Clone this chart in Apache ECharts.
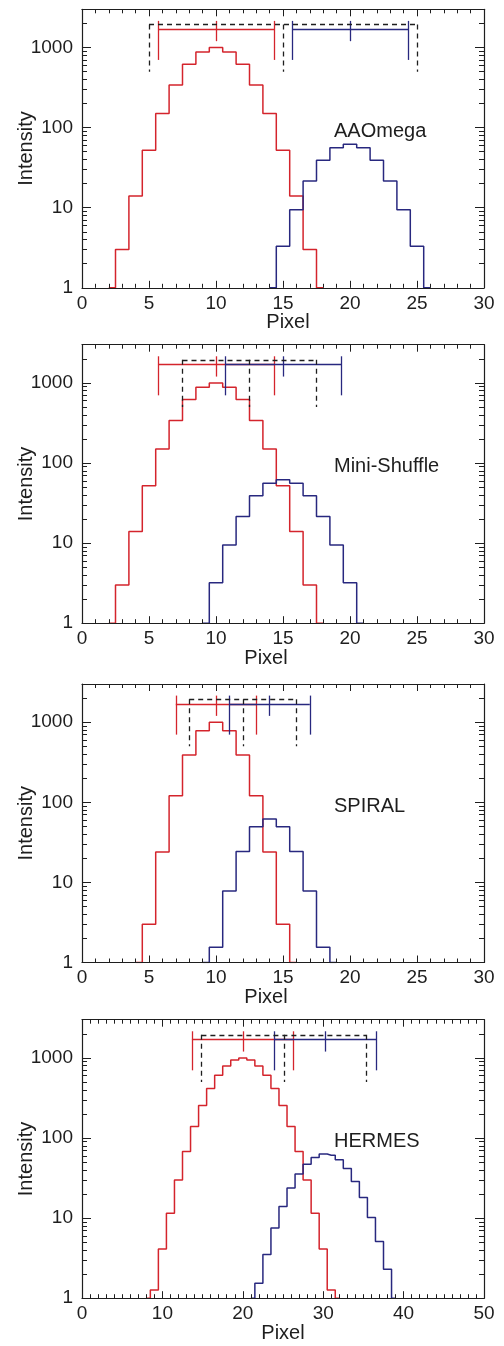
<!DOCTYPE html>
<html><head><meta charset="utf-8">
<script src="https://cdn.jsdelivr.net/npm/echarts@6/dist/echarts.min.js"></script>
<style>html,body{margin:0;padding:0;background:#fff}#c{width:504px;height:1346px}</style>
</head><body><div id="c"></div>
<script>
// ---------- data ----------
const instruments = ['AAOmega', 'Mini-Shuffle', 'SPIRAL', 'HERMES'];
const xMax = [30, 30, 30, 50];
const xStep = [5, 5, 5, 10];
const xMinorSplit = [5, 5, 5, 10];
const yMin = 1, yMax = 3000;
const yMajorTicks = [1, 10, 100, 1000];
const yMinorTicks = [2,3,4,5,6,7,8,9,20,30,40,50,60,70,80,90,200,300,400,500,600,700,800,900,2000,3000];

// first bin centre of each histogram
const redFirstBin = [3, 3, 5, 9];
const blueFirstBin = [15, 10, 10, 22];

const redAAOmega = [3, 14, 52, 150, 340, 620, 880, 1000, 880, 620, 340, 150, 52, 14, 3];
const blueAAOmega = [3.3, 9.4, 21.5, 39, 56, 62, 56, 39, 21.5, 9.4, 3.3];
const redMiniShuffle = [3, 14, 52, 150, 340, 620, 880, 1000, 880, 620, 340, 150, 52, 14, 3];
const blueMiniShuffle = [3.2, 9.5, 21.5, 39, 56, 62, 56, 39, 21.5, 9.5, 3.2];
const redSpiral = [3, 24, 121, 390, 780, 1000, 780, 390, 121, 24, 3];
const blueSpiral = [1.55, 7.8, 24.4, 49.6, 62, 49.6, 24.4, 7.8, 1.55];
const redHermes = [1.27, 4.1, 11.5, 30, 68, 139, 254, 414, 607, 794, 944, 1000, 944, 794, 607, 414, 254, 139, 68, 30, 11.5, 4.1, 1.27];
const blueHermes = [1.54, 3.5, 7.5, 14, 23.7, 35.5, 47, 57, 63, 61, 53.5, 41.7, 28.7, 18.1, 10.2, 5.1, 2.3];

const redSeries = [redAAOmega, redMiniShuffle, redSpiral, redHermes];
const blueSeries = [blueAAOmega, blueMiniShuffle, blueSpiral, blueHermes];

// [low, centre, high] of the range markers
const redBars = [[5.67, 10, 14.33], [5.67, 10, 14.33], [7, 10, 13], [13.67, 20, 26.33]];
const blueBars = [[15.67, 20, 24.35], [10.67, 15, 19.33], [11, 14, 17], [23.92, 30.28, 36.65]];
const dashedMarks = [[5, 15, 25], [7.5, 12.5, 17.5], [8, 12, 16], [14.85, 25.1, 35.35]];
// intensity levels of the marker parts
const levelDashed = 1940, levelBar = 1700, levelTickTop = 2150, levelTickBottom = 700;
const levelCentreBottom = 1200, levelDashedBottom = 500;

// ---------- layout / style ----------
const gridTops = [9.3, 344.7, 684, 1019.7];
const gridH = 278.5;
const pixelShift = [5, -17, -17, 0];
const RED = '#d4242c', BLUE = '#28287f', INK = '#1e1e1e';
const FONT = '"Liberation Sans", Arial, Helvetica, sans-serif';

function histData(first, vals) {
  const d = [[first - 1, yMin]];
  vals.forEach((v, i) => d.push([first + i, v]));
  d.push([first + vals.length, yMin]);
  return d;
}
function seg(x1, y1, x2, y2, style) {
  const a = { coord: [x1, y1] };
  if (style) a.lineStyle = style;
  return [a, { coord: [x2, y2] }];
}
function barLines(b) {
  const [lo, c, hi] = b;
  return [
    seg(lo, levelBar, hi, levelBar),
    seg(lo, levelTickTop, lo, levelTickBottom),
    seg(hi, levelTickTop, hi, levelTickBottom),
    seg(c, levelTickTop, c, levelCentreBottom)
  ];
}
function dashLines(m) {
  const st = { color: INK, type: [5, 4], width: 1.3 };
  return [
    seg(m[0], levelDashed, m[2], levelDashed, st),
    seg(m[0], levelDashed, m[0], levelDashedBottom, st),
    seg(m[1], levelDashed, m[1], levelDashedBottom, st),
    seg(m[2], levelDashed, m[2], levelDashedBottom, st)
  ];
}

const grids = [], xAxes = [], yAxes = [], series = [], graphics = [];
instruments.forEach((name, i) => {
  grids.push({ left: 82, right: 20, top: gridTops[i], height: gridH, containLabel: false, outerBoundsMode: 'none' });
  const xBase = {
    gridIndex: i, type: 'value', min: 0, max: xMax[i], interval: xStep[i],
    axisLine: { show: true, lineStyle: { color: INK, width: 1.2 } },
    axisTick: { show: true, inside: true, length: 7, lineStyle: { color: INK, width: 1 } },
    minorTick: { show: true, splitNumber: xMinorSplit[i], length: 4, lineStyle: { color: INK, width: 1 } },
    splitLine: { show: false }, z: 5
  };
  xAxes.push(Object.assign({}, xBase, {
    position: 'bottom',
    axisLabel: { show: true, fontSize: 19, color: INK, fontFamily: FONT, margin: 6 },
    name: 'Pixel', nameLocation: 'middle', nameGap: 25, nameMoveOverlap: false,
    nameTextStyle: { fontSize: 20, color: INK, fontFamily: FONT,
      padding: pixelShift[i] >= 0 ? [0, 0, 0, 2 * pixelShift[i]] : [0, -2 * pixelShift[i], 0, 0] }
  }));
  xAxes.push(Object.assign({}, xBase, { position: 'top', axisLabel: { show: false } }));

  const yBase = {
    gridIndex: i, type: 'log', logBase: 10, min: yMin, max: yMax,
    splitLine: { show: false }, minorTick: { show: false }, z: 5
  };
  yAxes.push(Object.assign({}, yBase, {
    position: 'left',
    axisLine: { show: true, lineStyle: { color: INK, width: 1.2 } },
    axisTick: { show: true, inside: true, length: 9, customValues: yMajorTicks, lineStyle: { color: INK, width: 1 } },
    axisLabel: { show: true, customValues: yMajorTicks, fontSize: 19, color: INK, fontFamily: FONT, margin: 9,
      formatter: v => String(Math.round(v)) },
    name: 'Intensity', nameLocation: 'middle', nameGap: 46, nameMoveOverlap: false,
    nameTextStyle: { fontSize: 20, color: INK, fontFamily: FONT }
  }));
  yAxes.push(Object.assign({}, yBase, {
    position: 'left', axisLine: { show: false },
    axisTick: { show: true, inside: true, length: 5, customValues: yMinorTicks, lineStyle: { color: INK, width: 1 } },
    axisLabel: { show: false }
  }));
  yAxes.push(Object.assign({}, yBase, {
    position: 'right',
    axisLine: { show: true, lineStyle: { color: INK, width: 1.2 } },
    axisTick: { show: true, inside: true, length: 9, customValues: yMajorTicks, lineStyle: { color: INK, width: 1 } },
    axisLabel: { show: false }
  }));
  yAxes.push(Object.assign({}, yBase, {
    position: 'right', axisLine: { show: false },
    axisTick: { show: true, inside: true, length: 5, customValues: yMinorTicks, lineStyle: { color: INK, width: 1 } },
    axisLabel: { show: false }
  }));

  const mlBase = { silent: true, symbol: ['none', 'none'], label: { show: false }, animation: false };
  series.push({
    type: 'line', step: 'middle', xAxisIndex: 2 * i, yAxisIndex: 4 * i,
    data: histData(redFirstBin[i], redSeries[i]), showSymbol: false, symbol: 'none',
    lineStyle: { color: RED, width: 1.5 }, itemStyle: { color: RED }, z: 2,
    markLine: Object.assign({}, mlBase, { lineStyle: { color: RED, type: 'solid', width: 1.3 }, data: barLines(redBars[i]) })
  });
  series.push({
    type: 'line', step: 'middle', xAxisIndex: 2 * i, yAxisIndex: 4 * i,
    data: histData(blueFirstBin[i], blueSeries[i]), showSymbol: false, symbol: 'none',
    lineStyle: { color: BLUE, width: 1.5 }, itemStyle: { color: BLUE }, z: 3,
    markLine: Object.assign({}, mlBase, { lineStyle: { color: BLUE, type: 'solid', width: 1.3 },
      data: barLines(blueBars[i]).concat(dashLines(dashedMarks[i])) })
  });

  graphics.push({ type: 'text', left: 334, top: gridTops[i] + 112,
    style: { text: name, font: '20px ' + FONT, fill: INK } });
});

const chart = echarts.init(document.getElementById('c'), null, { renderer: 'canvas' });
chart.setOption({
  backgroundColor: '#ffffff', animation: false,
  grid: grids, xAxis: xAxes, yAxis: yAxes, series: series, graphic: graphics
});
</script></body></html>
